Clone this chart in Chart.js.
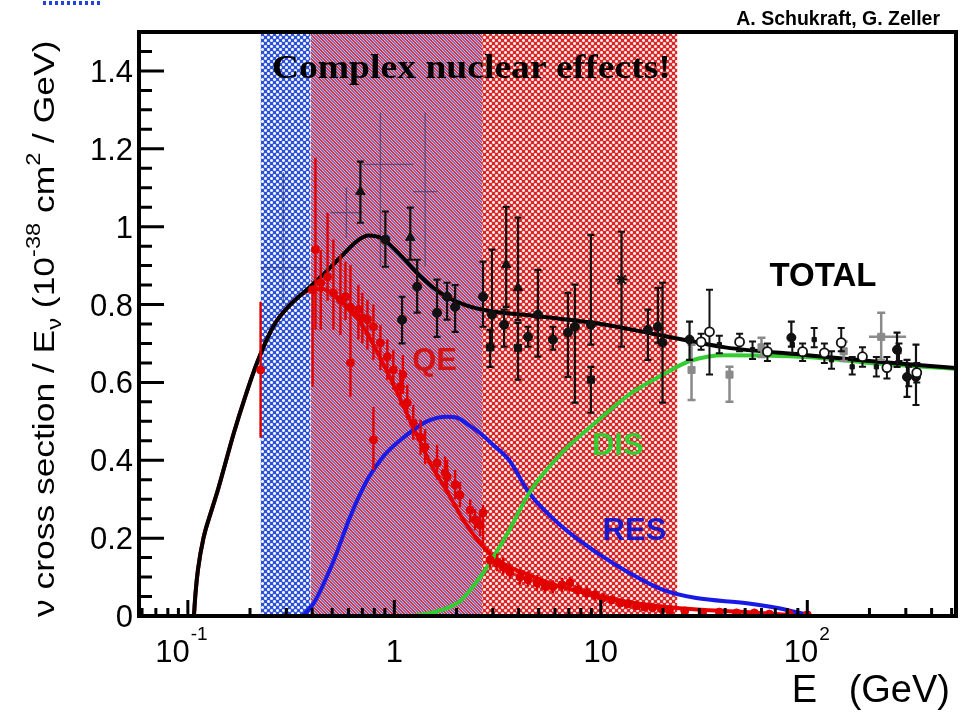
<!DOCTYPE html>
<html><head><meta charset="utf-8">
<script src="https://cdn.jsdelivr.net/npm/chart.js@4.4.1/dist/chart.umd.min.js"></script>
<style>html,body{margin:0;padding:0;background:#fff;overflow:hidden}</style>
</head><body>
<canvas id="c" width="964" height="715"></canvas>
<script>
// ---------------- data ----------------
const xRange = [0.058, 525];
const yRange = [0, 1.5];
const xMajorTicks = [0.1, 1, 10, 100];
const xTickBase = ['10', '1', '10', '10'];
const xTickExp = ['-1', '', '', '2'];
const yMajorTicks = [0, 0.2, 0.4, 0.6, 0.8, 1, 1.2, 1.4];
const yTickLabels = ['0', '0.2', '0.4', '0.6', '0.8', '1', '1.2', '1.4'];

// shaded energy regions (GeV)
const bandBlueOnly = [0.225, 0.393];
const bandOverlap = [0.393, 2.66];
const bandRedOnly = [2.66, 23.5];

// theory curves [E, sigma/E]
const totalCurve = [[0.107,0],[0.109,0.06],[0.112,0.12],[0.119,0.2],[0.13,0.27],[0.14,0.325],[0.167,0.47],[0.19,0.565],[0.218,0.655],[0.26,0.745],[0.31,0.797],[0.38,0.84],[0.45,0.876],[0.55,0.922],[0.66,0.963],[0.75,0.977],[0.88,0.968],[1.07,0.927],[1.34,0.872],[1.67,0.83],[2.25,0.797],[3,0.782],[5,0.77],[10,0.75],[20,0.72],[40,0.69],[100,0.67],[200,0.655],[525,0.637]];
const qeCurve = [[0.107,0],[0.109,0.06],[0.112,0.12],[0.119,0.2],[0.13,0.27],[0.14,0.325],[0.167,0.47],[0.19,0.565],[0.218,0.655],[0.26,0.745],[0.31,0.797],[0.38,0.835],[0.45,0.84],[0.55,0.81],[0.65,0.77],[0.75,0.72],[0.86,0.66],[1.0,0.59],[1.15,0.52],[1.3,0.46],[1.5,0.39],[1.8,0.32],[2.2,0.24],[2.9,0.16],[3.5,0.13],[4.5,0.105],[6,0.08],[8,0.062],[11,0.045],[16,0.03],[24,0.02],[50,0.01],[100,0]];
const resCurve = [[0.36,0],[0.407,0.033],[0.51,0.144],[0.61,0.254],[0.74,0.35],[0.885,0.41],[1.07,0.452],[1.44,0.5],[1.8,0.512],[2.0,0.51],[2.3,0.49],[2.6,0.47],[3.0,0.44],[3.6,0.40],[4.5,0.316],[6.5,0.229],[9.6,0.162],[13.8,0.11],[20,0.067],[29,0.046],[51,0.033],[73,0.02],[100,0.003]];
const disCurve = [[1.24,0],[1.5,0.008],[1.8,0.02],[2.1,0.04],[2.4,0.075],[2.9,0.136],[3.6,0.22],[4.5,0.316],[6.5,0.42],[9.6,0.5],[13.8,0.57],[20,0.62],[27,0.655],[40,0.67],[100,0.665],[200,0.65],[525,0.635]];

// measurements [E, value, low, high, (xlow, xhigh)]
const totalTriangles = [[0.685,1.09,1.01,1.167],[1.195,0.972,0.915,1.049],[3.48,0.902,0.794,1.051],[3.97,0.843,0.76,1.023]];
const totalCircles = [[0.905,0.967,0.897,1.039],[1.29,0.846,0.779,0.915],[1.09,0.761,0.70,0.82],[1.61,0.779,0.717,0.864],[1.80,0.82,0.761,0.856],[1.97,0.794,0.73,0.85],[2.69,0.82,0.743,0.91],[2.97,0.774,0.692,0.941],[3.40,0.748,0.692,0.787],[4.44,0.717,0.692,0.743],[4.96,0.774,0.666,0.889],[5.86,0.71,0.684,0.743],[6.93,0.728,0.614,0.83],[7.49,0.743,0.548,0.851],[8.95,0.748,0.697,0.979],[16.9,0.735,0.658,0.787],[18.9,0.743,0.702,0.843],[19.9,0.702,0.548,0.856],[26.9,0.71,0.658,0.756],[83.7,0.715,0.692,0.756],[272,0.684,0.64,0.728],[336,0.614,0.542,0.697],[304,0.614,0.563,0.658]];
const totalSquares = [[2.91,0.69,0.64,0.735],[3.97,0.689,0.607,0.753],[8.95,0.607,0.522,0.64]];
const totalStars = [[12.6,0.864,0.692,0.987]];
const totalOpen = [[33.6,0.73,0.62,0.838],[30.6,0.704,0.684,0.725],[47,0.704,0.68,0.725],[64.1,0.679,0.655,0.70],[94.9,0.679,0.655,0.70],[121,0.676,0.65,0.70],[146,0.702,0.68,0.74],[185,0.666,0.64,0.69],[243,0.638,0.61,0.665],[339,0.625,0.6,0.65]];
const totalSmall = [[37.5,0.697,0.675,0.72],[54.3,0.684,0.66,0.705],[84.6,0.697,0.675,0.715],[108,0.71,0.69,0.74],[131,0.658,0.635,0.68],[165,0.64,0.62,0.665],[216,0.64,0.615,0.665],[278,0.679,0.655,0.70],[310,0.614,0.59,0.64]];
const grayPoints = [[27.5,0.632,0.555,0.697],[42,0.62,0.55,0.64],[228,0.717,0.658,0.779,199,301],[60,0.69,0.665,0.715],[150,0.68,0.655,0.705]];
const faintCrosses = [[0.29,0.895,0.80,1.14,0.225,0.38],[0.586,1.036,0.97,1.10,0.49,0.70],[0.856,1.16,0.897,1.293,0.70,1.235],[1.41,1.09,0.897,1.293,1.235,1.61]];
const qePoints = [[0.225,0.632,0.458,0.807],[0.415,0.941,0.735,1.177],[0.402,0.838,0.589,0.846],[0.44,0.856,0.735,0.94],[0.475,0.871,0.81,1.036],[0.507,0.83,0.735,0.967],[0.548,0.812,0.722,0.928],[0.58,0.82,0.76,0.91],[0.613,0.794,0.697,0.902],[0.613,0.65,0.563,0.71],[0.67,0.787,0.71,0.851],[0.70,0.766,0.70,0.83],[0.741,0.761,0.684,0.812],[0.792,0.743,0.658,0.80],[0.792,0.452,0.375,0.537],[0.856,0.702,0.632,0.748],[0.925,0.666,0.607,0.71],[0.989,0.632,0.581,0.684],[1.07,0.589,0.542,0.632],[1.10,0.62,0.57,0.67],[1.155,0.548,0.504,0.594],[1.235,0.496,0.452,0.542],[1.34,0.46,0.414,0.504],[1.41,0.434,0.39,0.48],[1.61,0.393,0.35,0.44],[1.76,0.368,0.325,0.41],[1.80,0.357,0.311,0.401],[1.97,0.337,0.30,0.375],[2.08,0.311,0.28,0.345],[2.33,0.272,0.24,0.30],[2.46,0.247,0.22,0.275],[2.60,0.234,0.205,0.26],[2.69,0.265,0.183,0.285],[2.91,0.144,0.125,0.165],[3.15,0.136,0.115,0.16],[3.36,0.126,0.105,0.15],[3.63,0.113,0.095,0.135],[4.06,0.10,0.08,0.12],[4.44,0.093,0.075,0.115],[4.91,0.085,0.065,0.105],[5.37,0.077,0.06,0.095],[5.86,0.075,0.058,0.092],[6.48,0.08,0.062,0.098],[7.08,0.085,0.068,0.10],[7.76,0.067,0.05,0.085],[8.55,0.059,0.045,0.075],[9.35,0.054,0.04,0.068],[10.2,0.046,0.033,0.06],[11.3,0.041,0.03,0.053],[12.4,0.033,0.023,0.045],[13.5,0.031,0.021,0.042],[14.9,0.026,0.017,0.036],[16.3,0.023,0.015,0.032],[17.8,0.021,0.013,0.03],[19.7,0.018,0.011,0.026],[21.5,0.015,0.009,0.022],[25.5,0.013,0.008,0.019],[31.1,0.008,0.004,0.013],[37.5,0.01,0.005,0.015],[45.4,0.008,0.004,0.012],[55.4,0.008,0.004,0.012],[65.5,0.005,0.002,0.009],[81.8,0.005,0.002,0.008],[100,0.003,0.001,0.006]];

// text labels [text, E, value]
const curveLabels = [['QE',1.22,0.632],['DIS',9.06,0.414],['RES',10.2,0.195]];

// ---------------- helpers ----------------
const toXY = arr => arr.map(r => ({x: r[0], y: r[1]}));
const toPts = arr => arr.map(r => ({x: r[0], y: r[1], lo: r[2], hi: r[3], xlo: r[4], xhi: r[5]}));

function makePattern(size, fn) {
  const c = document.createElement('canvas'); c.width = size; c.height = size;
  const g = c.getContext('2d'); const img = g.createImageData(size, size);
  for (let y = 0; y < size; y++) for (let x = 0; x < size; x++) {
    const col = fn(x, y); const i = (y * size + x) * 4;
    img.data[i] = col[0]; img.data[i+1] = col[1]; img.data[i+2] = col[2]; img.data[i+3] = 255;
  }
  g.putImageData(img, 0, 0);
  return g.createPattern(c, 'repeat');
}
function checker(dark, light, edge) {
  return (x, y) => {
    const white = ((x % 6) < 3) !== ((y % 6) < 3);
    if (!white) return dark;
    const cx = x % 3, cy = y % 3;
    return (cx === 1 || cy === 1) ? light : edge;
  };
}
const bluePattern = makePattern(6, checker([44,80,214],[240,244,255],[160,178,242]));
const redPattern = makePattern(6, checker([218,38,38],[255,232,232],[240,150,150]));
const mixPattern = makePattern(6, (x, y) => {
  const k = (((x - y) % 6) + 6) % 6;
  if (k < 2) return [204,52,70];
  if (k === 2) return [230,176,192];
  if (k < 5) return [128,106,186];
  return [214,168,200];
});

function bandDataset(range, pattern) {
  return { type: 'line', data: [{x: range[0], y: yRange[1]}, {x: range[1], y: yRange[1]}],
    fill: 'origin', backgroundColor: pattern, borderColor: 'rgba(0,0,0,0)', borderWidth: 0,
    pointRadius: 0, order: 50 };
}
function curveDataset(arr, color) {
  return { type: 'line', data: toXY(arr), borderColor: color, borderWidth: 4, pointRadius: 0,
    cubicInterpolationMode: 'monotone', fill: false, order: 10 };
}
function pointDataset(arr, opts) {
  return Object.assign({ type: 'scatter', data: toPts(arr), pointRadius: 4, pointBorderWidth: 1,
    order: 5 }, opts);
}

// ---------------- plugins ----------------
const errorBars = {
  id: 'errorBars',
  beforeDatasetDraw(chart, args) {
    const ds = chart.data.datasets[args.index];
    if (!ds.errColor) return;
    const ctx = chart.ctx, xs = chart.scales.x, ys = chart.scales.y, a = chart.chartArea;
    ctx.save();
    ctx.beginPath(); ctx.rect(a.left, a.top, a.right - a.left, a.bottom - a.top); ctx.clip();
    ctx.strokeStyle = ds.errColor; ctx.lineWidth = ds.errWidth || 2;
    ctx.beginPath();
    for (const p of ds.data) {
      const X = xs.getPixelForValue(p.x), Y = ys.getPixelForValue(p.y);
      if (p.lo != null) {
        const y1 = ys.getPixelForValue(p.lo), y2 = ys.getPixelForValue(p.hi);
        ctx.moveTo(X, y1); ctx.lineTo(X, y2);
        if (ds.cap) {
          ctx.moveTo(X - ds.cap, y1); ctx.lineTo(X + ds.cap, y1);
          ctx.moveTo(X - ds.cap, y2); ctx.lineTo(X + ds.cap, y2);
        }
      }
      if (p.xlo != null) {
        ctx.moveTo(xs.getPixelForValue(p.xlo), Y); ctx.lineTo(xs.getPixelForValue(p.xhi), Y);
      }
    }
    ctx.stroke(); ctx.restore();
  }
};

const decor = {
  id: 'decor',
  afterDraw(chart) {
    const ctx = chart.ctx, xs = chart.scales.x, ys = chart.scales.y, a = chart.chartArea;
    ctx.save();
    // ticks (pointing inward)
    ctx.strokeStyle = '#000'; ctx.lineWidth = 3; ctx.beginPath();
    for (let e = -2; e <= 3; e++) for (let m = 1; m <= 9; m++) {
      const v = m * Math.pow(10, e);
      if (v < xs.min || v > xs.max) continue;
      const p = xs.getPixelForValue(v);
      ctx.moveTo(p, a.bottom); ctx.lineTo(p, a.bottom - (m === 1 ? 16 : 8));
    }
    for (let i = 0; i <= 30; i++) {
      const p = ys.getPixelForValue(i * 0.05);
      ctx.moveTo(a.left, p); ctx.lineTo(a.left + (i % 4 === 0 ? 25 : 13), p);
    }
    ctx.stroke();
    // frame
    ctx.lineWidth = 4;
    ctx.strokeRect(a.left, a.top, a.right - a.left, a.bottom - a.top);

    // y tick labels
    ctx.fillStyle = '#000';
    ctx.font = '31px "Liberation Sans", Arial, sans-serif';
    ctx.textAlign = 'right'; ctx.textBaseline = 'alphabetic';
    yMajorTicks.forEach((v, i) => ctx.fillText(yTickLabels[i], a.left - 6, ys.getPixelForValue(v) + 11));
    // x tick labels
    const baseFont = '31px "Liberation Sans", Arial, sans-serif';
    const expFont = '19px "Liberation Sans", Arial, sans-serif';
    ctx.textAlign = 'left';
    xMajorTicks.forEach((v, i) => {
      ctx.font = baseFont; const wb = ctx.measureText(xTickBase[i]).width;
      ctx.font = expFont; const we = xTickExp[i] ? ctx.measureText(xTickExp[i]).width + 2 : 0;
      const shift = v < 1 ? -6 : 0;
      const x0 = xs.getPixelForValue(v) - (wb + we) / 2 + shift;
      ctx.font = baseFont; ctx.fillText(xTickBase[i], x0, a.bottom + 46);
      if (xTickExp[i]) { ctx.font = expFont; ctx.fillText(xTickExp[i], x0 + wb + 1, a.bottom + 24); }
    });
    // x axis title
    ctx.font = '38px "Liberation Sans", Arial, sans-serif';
    ctx.textAlign = 'right';
    ctx.fillText('E   (GeV)', a.right - 6, a.bottom + 86);

    // y axis title (rotated, with sub/superscripts)
    ctx.save();
    ctx.translate(54, a.bottom + 1); ctx.rotate(-Math.PI / 2); ctx.scale(1.18, 1);
    ctx.textAlign = 'left';
    const big = '30px "Liberation Sans", Arial, sans-serif', small = '20px "Liberation Sans", Arial, sans-serif';
    const pieces = [['\u03bd cross section / E', big, 0], ['\u03bd', small, 7], [' (10', big, 0], ['-38', small, -14], [' cm', big, 0], ['2', small, -14], [' / GeV)', big, 0]];
    let tx = 0;
    for (const [t, f, dy] of pieces) { ctx.font = f; ctx.fillText(t, tx, dy); tx += ctx.measureText(t).width; }
    ctx.restore();

    // annotations
    ctx.save();
    ctx.font = 'bold 33px "Liberation Serif", "Times New Roman", serif';
    ctx.fillStyle = '#000'; ctx.textAlign = 'center';
    ctx.translate(xs.getPixelForValue(2.36), ys.getPixelForValue(1.383));
    ctx.scale(1.14, 1);
    ctx.fillText('Complex nuclear effects!', 0, 0);
    ctx.restore();
    ctx.textAlign = 'left';
    ctx.fillStyle = '#000';
    ctx.font = 'bold 33px "Liberation Sans", Arial, sans-serif';
    ctx.fillText('TOTAL', xs.getPixelForValue(65.6), ys.getPixelForValue(0.848));
    const labelColors = {QE: '#d41414', DIS: '#33cc33', RES: '#1a1acc'};
    ctx.font = 'bold 31px "Liberation Sans", Arial, sans-serif';
    for (const [t, e, v] of curveLabels) { ctx.fillStyle = labelColors[t]; ctx.fillText(t, xs.getPixelForValue(e), ys.getPixelForValue(v)); }
    // credit
    ctx.fillStyle = '#000';
    ctx.font = 'bold 19.5px "Liberation Sans", Arial, sans-serif';
    ctx.textAlign = 'right';
    ctx.fillText('A. Schukraft, G. Zeller', 940, 25);
    // cut-off dotted fragment at top-left
    ctx.strokeStyle = '#2244dd'; ctx.lineWidth = 4; ctx.setLineDash([3, 3]);
    ctx.beginPath(); ctx.moveTo(43, 3); ctx.lineTo(101, 3); ctx.stroke();
    ctx.restore();
  }
};

// ---------------- chart ----------------
Chart.defaults.font.family = '"Liberation Sans", Arial, sans-serif';
new Chart(document.getElementById('c'), {
  type: 'scatter',
  data: { datasets: [
    bandDataset(bandBlueOnly, bluePattern),
    bandDataset(bandOverlap, mixPattern),
    bandDataset(bandRedOnly, redPattern),
    pointDataset(faintCrosses, { pointRadius: 0, errColor: 'rgba(40,50,100,0.6)', errWidth: 1.3, order: 40 }),
    curveDataset(totalCurve, '#000000'),
    curveDataset(disCurve, '#33cc33'),
    curveDataset(resCurve, '#1a1ae6'),
    curveDataset(qeCurve, '#e60000'),
    pointDataset(qePoints, { pointStyle: 'circle', pointRadius: 4, backgroundColor: '#e00000', borderColor: '#e00000', errColor: '#e00000', errWidth: 2.4, order: 4 }),
    pointDataset(grayPoints, { pointStyle: 'rect', pointRadius: 5, backgroundColor: '#8a8a8a', borderColor: '#8a8a8a', errColor: '#8a8a8a', errWidth: 2.5, cap: 4, order: 3 }),
    pointDataset(totalCircles, { pointStyle: 'circle', pointRadius: 4.5, backgroundColor: '#111', borderColor: '#111', errColor: '#111', errWidth: 2.2, cap: 3.5, order: 2 }),
    pointDataset(totalTriangles, { pointStyle: 'triangle', pointRadius: 5.5, backgroundColor: '#111', borderColor: '#111', errColor: '#111', errWidth: 2.2, cap: 3.5, order: 2 }),
    pointDataset(totalSquares, { pointStyle: 'rect', pointRadius: 5, backgroundColor: '#111', borderColor: '#111', errColor: '#111', errWidth: 2.2, cap: 3.5, order: 2 }),
    pointDataset(totalStars, { pointStyle: 'star', pointRadius: 6, backgroundColor: '#111', borderColor: '#111', pointBorderWidth: 2, errColor: '#111', errWidth: 2.2, cap: 3.5, order: 2 }),
    pointDataset(totalSmall, { pointStyle: 'rect', pointRadius: 3, backgroundColor: '#111', borderColor: '#111', errColor: '#111', errWidth: 2, cap: 3.5, order: 2 }),
    pointDataset(totalOpen, { pointStyle: 'circle', pointRadius: 4.5, backgroundColor: '#fff', borderColor: '#111', pointBorderWidth: 1.8, errColor: '#111', errWidth: 2, cap: 3.5, order: 1 })
  ]},
  options: {
    responsive: false, animation: false, events: [],
    layout: { padding: { left: 0, right: 7, top: 32, bottom: 0 } },
    plugins: { legend: { display: false }, tooltip: { enabled: false } },
    scales: {
      x: { type: 'logarithmic', min: xRange[0], max: xRange[1],
           grid: { display: false }, border: { display: false }, ticks: { display: false },
           afterFit: s => { s.height = 99; } },
      y: { type: 'linear', min: yRange[0], max: yRange[1],
           grid: { display: false }, border: { display: false }, ticks: { display: false },
           afterFit: s => { s.width = 139; } }
    }
  },
  plugins: [errorBars, decor]
});
</script>
</body></html>
